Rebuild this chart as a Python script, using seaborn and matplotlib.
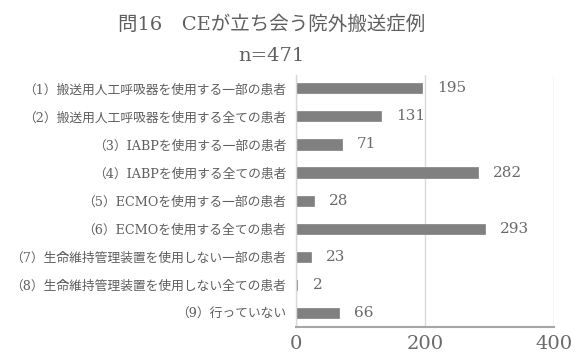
import matplotlib
matplotlib.use("Agg")
import matplotlib.pyplot as plt
import seaborn as sns
import pandas as pd

# Survey item labels and response counts
categories = [
    "（1）搬送用人工呼吸器を使用する一部の患者",
    "（2）搬送用人工呼吸器を使用する全ての患者",
    "（3）IABPを使用する一部の患者",
    "（4）IABPを使用する全ての患者",
    "（5）ECMOを使用する一部の患者",
    "（6）ECMOを使用する全ての患者",
    "（7）生命維持管理装置を使用しない一部の患者",
    "（8）生命維持管理装置を使用しない全ての患者",
    "（9）行っていない",
]
counts = [195, 131, 71, 282, 28, 293, 23, 2, 66]
x_ticks = [0, 200, 400]
title_line1 = "問16　CEが立ち会う院外搬送症例"
title_line2 = "n=471"

sns.set_theme(style="white")
FONTS = ["DejaVu Serif", "Noto Sans CJK JP", "DejaVu Sans"]
plt.rcParams["font.family"] = FONTS

TEXT = "#5f5f5f"
NUM = "#6a6a6a"
BAR = "#808080"
GRID = "#d9d9d9"

df = pd.DataFrame({"label": categories, "count": counts})

fig = plt.figure(figsize=(5.76, 3.58), dpi=100)
ax = fig.add_axes([0.514, 0.087, 0.448, 0.703])

sns.barplot(data=df, y="label", x="count", orient="h", color=BAR,
            saturation=1, width=0.36, edgecolor=BAR, linewidth=0.5, ax=ax)

ax.set_xlim(0, 400)
ax.set_ylim(len(categories) - 0.5, -0.47)
ax.set_xticks(x_ticks)
ax.set_xticklabels([str(t) for t in x_ticks], fontsize=14, color=NUM)
ax.tick_params(axis="x", length=0, pad=6)
ax.tick_params(axis="y", length=0, pad=7)
for lbl in ax.get_yticklabels():
    lbl.set_fontfamily(FONTS)
    lbl.set_fontsize(9.2)
    lbl.set_color(TEXT)

ax.set_xlabel("")
ax.set_ylabel("")
ax.xaxis.grid(True, color=GRID, linewidth=1)
ax.set_axisbelow(True)
for side in ("top", "right"):
    ax.spines[side].set_visible(False)
ax.spines["left"].set_color(GRID)
ax.spines["left"].set_linewidth(1)
ax.spines["bottom"].set_color("#a6a6a6")
ax.spines["bottom"].set_linewidth(1.5)

for cont in ax.containers:
    ax.bar_label(cont, labels=[str(v) for v in counts], padding=11,
                 fontsize=11, color=NUM)

fig.text(0.472, 1 - 25 / 358, title_line1, ha="center", va="center",
         fontsize=14, color=TEXT)
fig.text(0.472, 1 - 56 / 358, title_line2, ha="center", va="center",
         fontsize=14, color=TEXT)

fig.savefig("out.png", dpi=100)
